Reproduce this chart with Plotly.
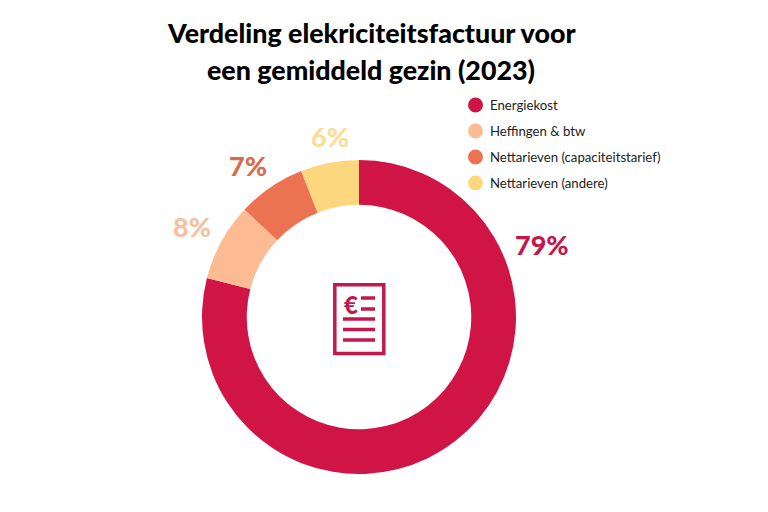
import plotly.graph_objects as go

W = 768
H = 512
PAGE_MARGIN = 8  # browser body margin

categories = ["Energiekost", "Heffingen & btw", "Nettarieven (capaciteitstarief)", "Nettarieven (andere)"]
values = [79, 8, 7, 6]
colors = ["#D01445", "#FDBB94", "#EC7351", "#FDD780"]
label_colors = ["#C4174B", "#F7C0A2", "#D66C4E", "#F9DE9B"]
label_pos = [(542, 244), (192, 226), (248, 165), (330, 136)]
legend_y = [105, 131, 157, 183]


# pixel -> paper
def px_x(x):
    return (x - PAGE_MARGIN) / W


def px_y(y):
    return 1 - (y - PAGE_MARGIN) / H


fig = go.Figure(
    go.Pie(
        labels=categories,
        values=values,
        hole=0.715,
        sort=False,
        direction="clockwise",
        rotation=0,
        textinfo="none",
        hoverinfo="label+percent",
        marker=dict(colors=colors, line=dict(width=0)),
        showlegend=False,
        domain=dict(x=[px_x(202), px_x(516)], y=[px_y(474), px_y(160)]),
    )
)

annotations = []
shapes = []

# titel
for txt, y in [("Verdeling elekriciteitsfactuur voor", 33), ("een gemiddeld gezin (2023)", 69.5)]:
    annotations.append(
        dict(
            text=txt, x=px_x(371), y=px_y(y), xref="paper", yref="paper",
            showarrow=False, xanchor="center", yanchor="middle",
            font=dict(family="Lato", size=26.8, color="black", weight=900),
        )
    )

# percentages
for v, c, (x, y) in zip(values, label_colors, label_pos):
    annotations.append(
        dict(
            text=f"{v}%", x=px_x(x), y=px_y(y), xref="paper", yref="paper",
            showarrow=False, xanchor="center", yanchor="middle",
            font=dict(family="Lato", size=27, color=c, weight=900),
        )
    )

# legende
for name, c, y in zip(categories, colors, legend_y):
    shapes.append(
        dict(
            type="circle", xref="paper", yref="paper", fillcolor=c, line_width=0,
            x0=px_x(468), x1=px_x(483), y0=px_y(y + 7.5), y1=px_y(y - 7.5),
        )
    )
    annotations.append(
        dict(
            text=name, x=px_x(488), y=px_y(y), xref="paper", yref="paper",
            showarrow=False, xanchor="left", yanchor="middle",
            font=dict(family="Lato", size=13.2, color="#222222"),
        )
    )

# factuur icoon
ICON = "#C4174B"
shapes.append(
    dict(
        type="rect", xref="paper", yref="paper", fillcolor="white",
        line=dict(color=ICON, width=3.5),
        x0=px_x(334.8), x1=px_x(383.8), y0=px_y(353.5), y1=px_y(284.8),
    )
)
for x0, x1, y in [(361, 375, 298), (361, 375, 309), (343, 375, 319), (343, 375, 329.5), (343, 375, 340)]:
    shapes.append(
        dict(
            type="line", xref="paper", yref="paper",
            line=dict(color=ICON, width=3.5),
            x0=px_x(x0), x1=px_x(x1), y0=px_y(y), y1=px_y(y),
        )
    )
annotations.append(
    dict(
        text="€", x=px_x(351), y=px_y(304), xref="paper", yref="paper",
        showarrow=False, xanchor="center", yanchor="middle",
        font=dict(family="Lato", size=24, color=ICON, weight=900),
    )
)

fig.update_layout(
    width=W,
    height=H,
    margin=dict(l=0, r=0, t=0, b=0),
    paper_bgcolor="white",
    annotations=annotations,
    shapes=shapes,
)

fig.write_html("out.html")
